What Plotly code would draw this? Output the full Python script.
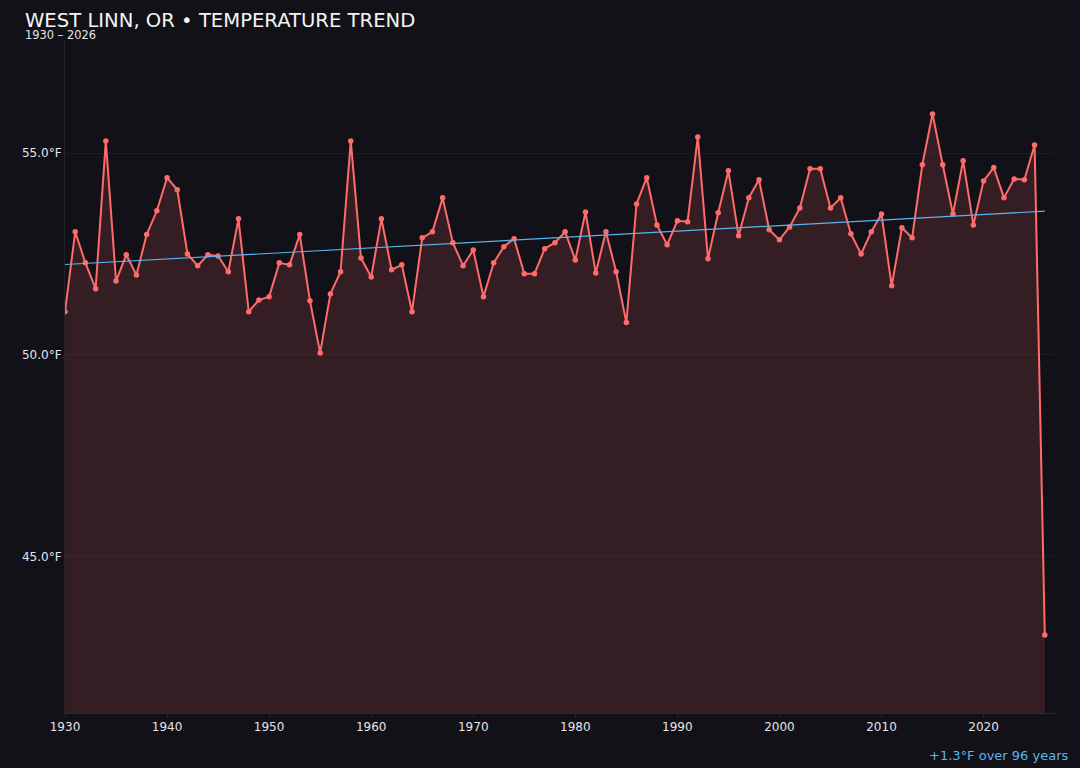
import numpy as np
import plotly.graph_objects as go

years = list(range(1930, 2027))
temps = [
    51.07, 53.05, 52.28, 51.64, 55.30, 51.83, 52.48, 51.98, 52.98, 53.57,  # 1930s
    54.39, 54.09, 52.50, 52.21, 52.48, 52.45, 52.06, 53.37, 51.07, 51.36,  # 1940s
    51.44, 52.28, 52.23, 52.98, 51.34, 50.05, 51.51, 52.06, 55.30, 52.40,  # 1950s
    51.93, 53.37, 52.11, 52.23, 51.07, 52.90, 53.05, 53.89, 52.78, 52.21,  # 1960s
    52.60, 51.44, 52.28, 52.68, 52.88, 52.01, 52.01, 52.63, 52.78, 53.05,  # 1970s
    52.35, 53.54, 52.03, 53.05, 52.06, 50.80, 53.74, 54.39, 53.22, 52.73,  # 1980s
    53.32, 53.30, 55.40, 52.38, 53.52, 54.56, 52.95, 53.89, 54.34, 53.10,  # 1990s
    52.85, 53.17, 53.64, 54.61, 54.61, 53.64, 53.89, 53.00, 52.50, 53.05,  # 2000s
    53.49, 51.71, 53.15, 52.90, 54.71, 55.97, 54.71, 53.49, 54.81, 53.22,  # 2010s
    54.31, 54.64, 53.89, 54.36, 54.34, 55.20, 43.06,                       # 2020s
]
y_ticks = [45, 50, 55]
y_tick_labels = ["45.0°F", "50.0°F", "55.0°F"]
x_ticks = [1930, 1940, 1950, 1960, 1970, 1980, 1990, 2000, 2010, 2020]

title_text = "WEST LINN, OR • TEMPERATURE TREND"
subtitle_text = "1930 – 2026"
trend_text = "+1.3°F over 96 years"

BG = "#121117"
LINE = "#ff6b6b"
TREND = "#5ab4ee"
TEXT = "#e4e4ea"
FONT = "DejaVu Sans"
Y_MIN, Y_MAX = 41.13, 57.8

coef = np.polyfit(years, temps, 1)
trend = [coef[0] * yr + coef[1] for yr in years]

fig = go.Figure()
fig.add_trace(go.Scatter(
    x=years, y=[Y_MIN] * len(years), mode="lines",
    line=dict(width=0), hoverinfo="skip", showlegend=False,
))
fig.add_trace(go.Scatter(
    x=years, y=temps, mode="lines+markers",
    line=dict(color=LINE, width=2),
    marker=dict(color=LINE, size=5.5),
    fill="tonexty", fillcolor="rgba(255,107,107,0.15)",
    showlegend=False,
))
fig.add_trace(go.Scatter(
    x=[years[0], years[-1]], y=[trend[0], trend[-1]], mode="lines",
    line=dict(color=TREND, width=1.2), showlegend=False,
))

fig.update_layout(
    width=1080, height=768,
    paper_bgcolor=BG, plot_bgcolor=BG,
    margin=dict(l=65, r=25, t=40, b=55),
    font=dict(family=FONT, color=TEXT, size=12),
    xaxis=dict(
        range=[1930, 2027], tickvals=x_ticks, showgrid=False,
        showline=True, linecolor="#2a2a32", linewidth=1,
        ticks="outside", ticklen=3, tickcolor="#2a2a32",
        tickfont=dict(size=12, color=TEXT), zeroline=False,
    ),
    yaxis=dict(
        range=[Y_MIN, Y_MAX], tickvals=y_ticks, ticktext=y_tick_labels,
        showgrid=True, gridcolor="#1e1c22", gridwidth=1,
        showline=True, linecolor="#222128", linewidth=1,
        tickfont=dict(size=12, color=TEXT), zeroline=False, ticks="",
    ),
    annotations=[
        dict(text=title_text, xref="paper", yref="paper",
             x=(23 - 65) / 990, y=(713 - 20) / 673, xanchor="left", yanchor="middle",
             showarrow=False, font=dict(size=19.6, color="#f4f4f6", family=FONT)),
        dict(text=subtitle_text, xref="paper", yref="paper",
             x=(23 - 65) / 990, y=(713 - 35) / 673, xanchor="left", yanchor="middle",
             showarrow=False, font=dict(size=11.4, color=TEXT, family=FONT)),
        dict(text=trend_text, xref="paper", yref="paper",
             x=(1070 - 65) / 990, y=(713 - 755) / 673, xanchor="right", yanchor="middle",
             showarrow=False, font=dict(size=13, color=TREND, family=FONT)),
    ],
)

fig.write_html(
    "out.html",
    config={"displayModeBar": False},
    post_script="document.body.style.margin='0';document.body.style.background='" + BG + "';",
)
